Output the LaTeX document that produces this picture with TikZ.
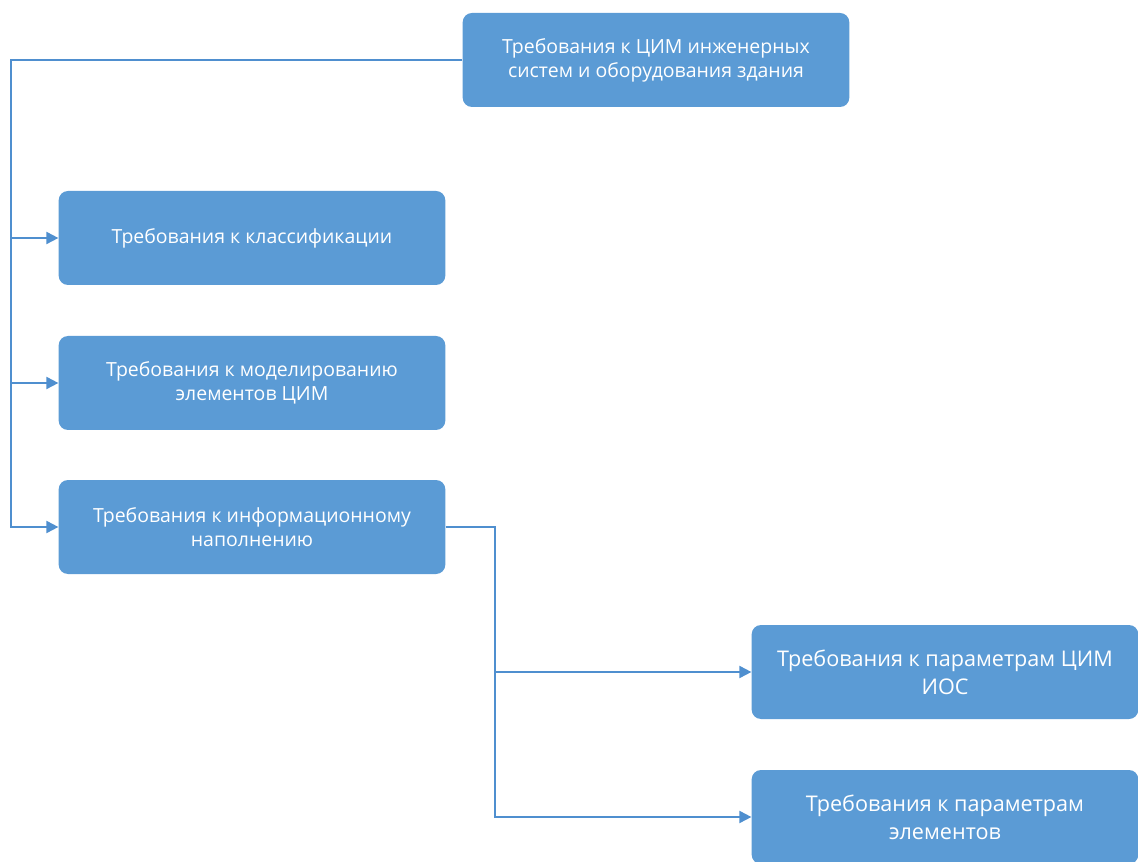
\documentclass[tikz,border=0pt]{standalone}
\usepackage{fontspec}
\setmainfont{Open Sans}
\usetikzlibrary{arrows.meta,positioning}
\definecolor{boxblue}{HTML}{5B9BD5}
\definecolor{lineblue}{HTML}{4F8FCF}

\begin{document}
\begin{tikzpicture}[x=0.75pt,y=-0.75pt,
  req/.style={rectangle, rounded corners=7pt, fill=boxblue, text=white,
    minimum width=290pt, minimum height=70.5pt, align=center,
    font=\fontsize{14.6}{18}\selectfont, inner sep=0pt},
  bigreq/.style={req, font=\fontsize{16.2}{21}\selectfont},
  link/.style={draw=lineblue, line width=1.4pt},
  arr/.style={link, -{Triangle[length=9pt,width=9pt]}}]
    \useasboundingbox (0,0) rectangle (1138,862);
    \node (top) at (656,60) [req] {Требования к ЦИМ инженерных\\систем и оборудования здания};
    \node (cls) at (252,238) [req] {Требования к классификации};
    \node (mod) at (252,383) [req] {Требования к моделированию\\элементов ЦИМ};
    \node (info) at (252,527) [req] {Требования к информационному\\наполнению};
    \node (parcim) at (945,672) [bigreq] {Требования к параметрам ЦИМ\\ИОС};
    \node (parel) at (945,817) [bigreq] {Требования к параметрам\\элементов};
    \coordinate (trunk) at (11,60);
    \coordinate (branch) at (495,527);
    \draw[arr] (top.west) -- (trunk) |- (cls.west);
    \draw[arr] (trunk) |- (mod.west);
    \draw[arr] (trunk) |- (info.west);
    \draw[arr] (info.east) -- (branch) |- (parcim.west);
    \draw[arr] (branch) |- (parel.west);
\end{tikzpicture}
\end{document}
